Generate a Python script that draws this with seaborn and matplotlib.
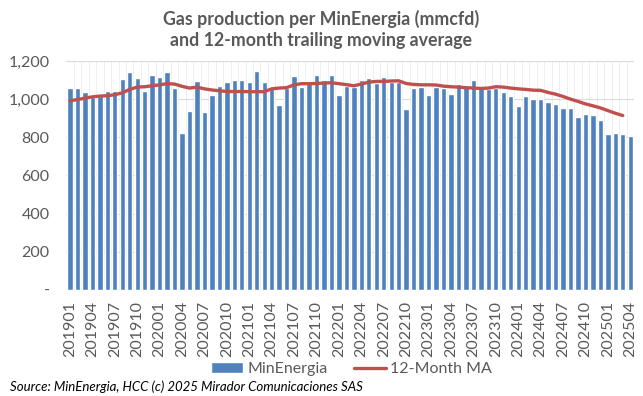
import numpy as np
import pandas as pd
import matplotlib
matplotlib.use("Agg")
import matplotlib.pyplot as plt
import seaborn as sns

# monthly categories 201901 .. 202504
months = [p.strftime("%Y%m") for p in pd.period_range("2019-01", "2025-04", freq="M")]

# gas production per MinEnergia (mmcfd)
production = [
    1056, 1060, 1040, 1010, 1015, 1042, 1042, 1105, 1142, 1112,
    1044, 1125, 1114, 1142, 1058, 825, 937, 1095, 930, 1021,
    1070, 1091, 1098, 1102, 1091, 1147, 1091, 1056, 970, 1056,
    1121, 1061, 1082, 1128, 1102, 1128, 1021, 1070, 1063, 1102,
    1110, 1084, 1118, 1091, 1088, 947, 1056, 1065, 1021, 1065,
    1056, 1026, 1079, 1070, 1102, 1068, 1052, 1056, 1040, 1014,
    963, 1019, 1002, 1002, 986, 974, 951, 954, 905, 923,
    919, 893, 819, 823, 819, 805,
]

# 12-month trailing moving average (ends one month earlier)
moving_avg = [
    991, 998, 1005, 1012, 1016, 1018, 1023, 1033, 1051, 1063,
    1065, 1070, 1075, 1081, 1079, 1067, 1058, 1063, 1054, 1048,
    1044, 1040, 1040, 1040, 1039, 1039, 1039, 1054, 1058, 1060,
    1075, 1081, 1081, 1082, 1084, 1086, 1081, 1076, 1070, 1079,
    1089, 1093, 1093, 1095, 1096, 1082, 1077, 1075, 1075, 1074,
    1068, 1065, 1063, 1060, 1058, 1056, 1058, 1065, 1063, 1058,
    1054, 1051, 1047, 1046, 1035, 1026, 1014, 1000, 988, 975,
    965, 954, 940, 926, 914,
]

bars_df = pd.DataFrame({"month": months, "value": production})
ma_df = pd.DataFrame({"pos": np.arange(len(moving_avg)), "value": moving_avg})

sns.set_style("white")
plt.rcParams["font.family"] = ["Lato", "DejaVu Sans"]

fig = plt.figure(figsize=(6.43, 3.96), dpi=100)
ax = fig.add_axes([0.103, 0.268, 0.883, 0.578])

sns.barplot(data=bars_df, x="month", y="value", color="#4f81bd", saturation=1,
            width=0.72, label="MinEnergia", ax=ax, zorder=2)
sns.lineplot(data=ma_df, x="pos", y="value", color="#c0504d", linewidth=2.4,
             label="12-Month MA", ax=ax, zorder=3)

ax.set_xlim(-0.5, len(months) - 0.5)
ax.set_ylim(0, 1200)
ax.set_yticks(range(0, 1201, 200))
ax.set_yticklabels(["-"] + [f"{v:,}" for v in range(200, 1201, 200)])
ax.set_xticks(range(0, len(months), 3))
ax.set_xticklabels(months[::3], rotation=90)
ax.set_xticks(np.arange(0.5, len(months) - 0.5, 1), minor=True)
ax.tick_params(axis="both", which="both", length=0, labelsize=11.5, colors="#595959")
ax.tick_params(axis="x", pad=8)
ax.tick_params(axis="y", pad=12)
ax.grid(axis="y", color="#d9d9d9", linewidth=0.8, zorder=0)
ax.grid(axis="x", which="minor", color="#ececec", linewidth=0.6, zorder=0)
ax.set_axisbelow(True)
ax.set_xlabel("")
ax.set_ylabel("")
sns.despine(ax=ax, left=True, bottom=True)

fig.suptitle("Gas production per MinEnergia (mmcfd)\nand 12-month trailing moving average",
             x=0.5, y=0.975, fontsize=12.8, fontweight="bold", color="#595959",
             linespacing=1.3)

handles, labels = ax.get_legend_handles_labels()
ax.get_legend().remove()
order = [labels.index("MinEnergia"), labels.index("12-Month MA")]
fig.legend([handles[i] for i in order], [labels[i] for i in order],
           loc="center", bbox_to_anchor=(0.547, 0.068), ncol=2,
           frameon=False, fontsize=11.5, handlelength=2.0, handletextpad=0.3,
           columnspacing=1.6, labelcolor="#595959")

fig.text(0.015, 0.023, "Source: MinEnergia, HCC (c) 2025 Mirador Comunicaciones SAS",
         fontsize=9.5, style="italic", color="#000000", va="center")

fig.savefig("out.png", dpi=100)
